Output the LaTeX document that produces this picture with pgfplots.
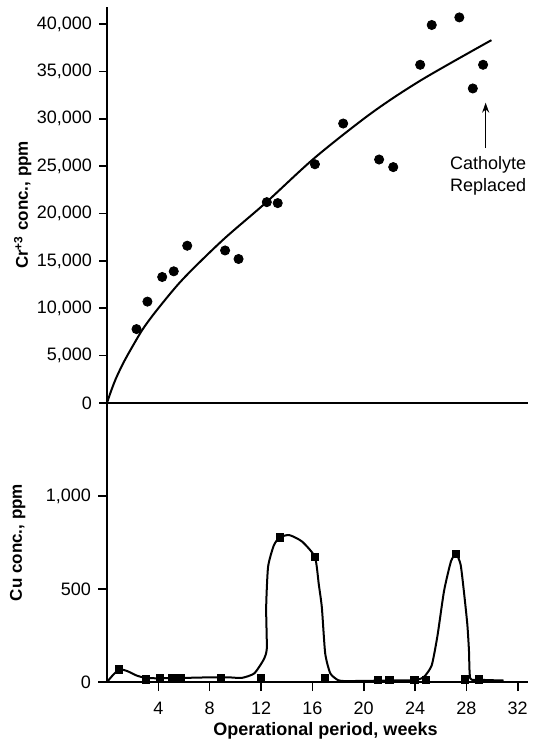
\documentclass[border=0pt]{standalone}
\usepackage{fontspec}
\setmainfont{Liberation Sans}
\usepackage{pgfplots}
\pgfplotsset{compat=1.18}
\usetikzlibrary{arrows.meta}

\begin{document}
\begin{tikzpicture}
% top panel: Cr+3
\begin{axis}[
    at={(0pt,139.5pt)}, anchor=south west,
    scale only axis, width=210.5pt, height=198pt,
    xmin=0, xmax=32.8, ymin=0, ymax=41800,
    axis lines*=left,
    axis line style={line width=0.9pt},
    tick align=outside, major tick length=4pt,
    every tick/.style={black, line width=0.8pt},
    xtick=\empty,
    ytick={0,5000,...,40000},
    scaled y ticks=false,
    /pgf/number format/assume math mode=true,
    /pgf/number format/1000 sep={,},
    tick label style={font=\fontsize{9}{11}\selectfont},
    ylabel={Cr\textsuperscript{+3} conc., ppm},
    ylabel style={at={([xshift=-39.5pt]axis description cs:0,0.5)}, anchor=base,
        font=\fontsize{8.5}{10}\selectfont\bfseries},
    clip=false,
]
\addplot[only marks, mark=*, mark size=2.3pt, black] coordinates {
    (2.3,7800) (3.15,10700) (4.3,13300) (5.2,13900) (6.25,16600)
    (9.2,16100) (10.25,15200) (12.45,21200) (13.3,21100) (16.2,25200)
    (18.4,29500) (21.2,25700) (22.3,24900) (24.4,35700) (25.3,39900)
    (27.45,40700) (28.5,33200) (29.3,35700)
};
\addplot[black, line width=1pt, smooth, tension=0.5] coordinates {
    (0,0) (0.3,1200) (0.7,2600) (1.3,4300) (2.0,6000) (2.84,7900)
    (4,10000) (5.93,13100) (9.02,17200) (12.34,21100) (16.2,25900)
    (20.6,30600) (24.5,34100) (29.95,38300)
};
\draw[-{Stealth[length=5pt,width=3.5pt]}, line width=0.8pt]
    (axis cs:29.5,26900) -- (axis cs:29.5,31700);
\node[align=center, font=\fontsize{9}{11}\selectfont]
    at (axis cs:29.7,23950) {Catholyte\\Replaced};
\end{axis}

% bottom panel: Cu
\begin{axis}[
    at={(0pt,0pt)}, anchor=south west,
    scale only axis, width=210.5pt, height=139.5pt,
    xmin=0, xmax=32.8, ymin=0, ymax=1500,
    axis lines*=left,
    axis line style={line width=0.9pt},
    tick align=outside, major tick length=4.5pt,
    every tick/.style={black, line width=0.8pt},
    xtick={4,8,...,32},
    ytick={0,500,1000},
    scaled y ticks=false,
    /pgf/number format/assume math mode=true,
    /pgf/number format/1000 sep={,},
    tick label style={font=\fontsize{9}{11}\selectfont},
    xticklabel style={yshift=-2pt},
    ylabel={Cu conc., ppm},
    ylabel style={at={([xshift=-42.5pt]axis description cs:0,0.5)}, anchor=base,
        font=\fontsize{8.5}{10}\selectfont\bfseries},
    xlabel={Operational period, weeks},
    xlabel style={at={([xshift=4pt,yshift=-26.5pt]axis description cs:0.5,0)}, anchor=base,
        font=\fontsize{9}{11}\selectfont\bfseries},
    clip=false,
]
\addplot[black, line width=1pt, smooth, tension=0.35] coordinates {
    (0,0) (0.5,40) (1.0,68) (1.6,58) (2.3,35) (3.0,22) (4,20) (6,22)
    (8,25) (9.5,25) (10.5,22) (11.47,46) (12.2,120) (12.45,180)
    (12.4,400) (12.55,620) (13.0,735) (13.45,777) (14.2,790) (15.2,755)
    (16.2,672) (16.5,525) (16.74,400) (17.0,153) (17.4,46) (18.0,10)
    (18.5,5) (20,6) (22,8) (24,10) (24.7,28) (25.3,90) (25.75,250)
    (26.26,490) (26.8,649) (27.2,688) (27.55,631) (27.8,490) (28.07,312)
    (28.2,170) (28.3,20) (29,12) (30.9,8)
};
\addplot[only marks, mark=square*, mark size=1.8pt, black] coordinates {
    (0.9,68) (3.05,14) (4.1,20) (5.1,20) (5.75,20) (8.9,20) (12.0,20)
    (13.45,777) (16.2,672) (17.0,20) (21.1,10) (22.0,10) (23.95,10)
    (24.85,10) (27.2,688) (27.9,14) (29.0,14)
};
\end{axis}
\pgfresetboundingbox
\path[use as bounding box] (-53.5pt,-33pt) rectangle (214.5pt,341pt);
\end{tikzpicture}
\end{document}
